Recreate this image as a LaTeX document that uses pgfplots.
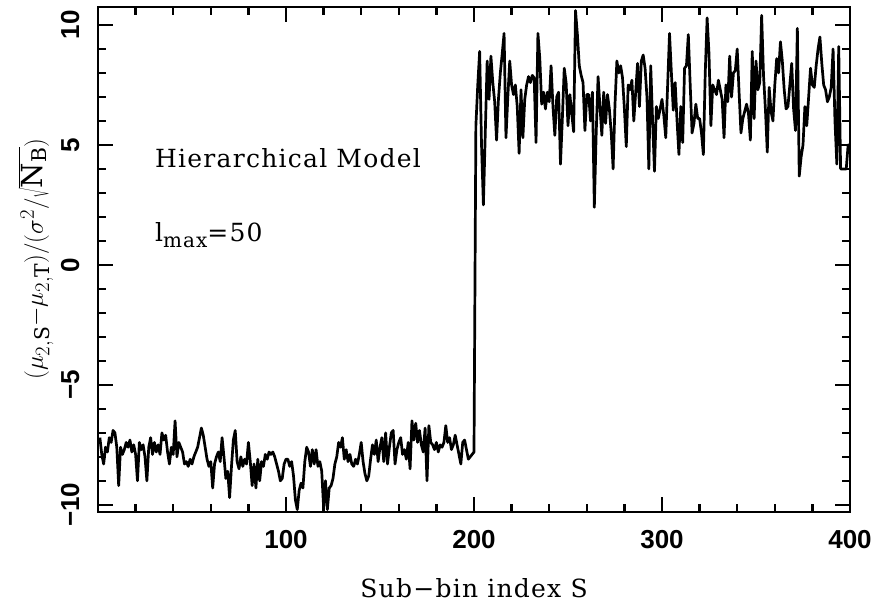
\documentclass[border=0pt]{standalone}
\usepackage{fontspec}
\setmainfont{DejaVu Serif}[LetterSpace=5]
\newfontfamily\tickfont{Liberation Sans}
\usepackage{pgfplots}
\pgfplotsset{compat=1.18}
\begin{document}
\begin{tikzpicture}
\useasboundingbox (-98pt,-97pt) rectangle (780pt,512pt);
\begin{axis}[
  scale only axis, width=752pt, height=505pt,
  xmin=0, xmax=400, ymin=-10.3, ymax=10.75,
  axis line style={line width=2.4pt},
  tick style={line width=2.4pt, black},
  tick align=inside,
  major tick length=15pt, minor tick length=8pt,
  xtick={0,100,200,300,400}, xticklabels={,100,200,300,400},
  minor x tick num=4,
  ytick={-10,-5,0,5,10}, yticklabels={−10,−5,0,5,10},
  minor y tick num=4,
  xticklabel style={font=\tickfont\bfseries\fontsize{26}{28}\selectfont, anchor=north},
  xticklabel shift=15pt,
  yticklabel style={font=\tickfont\bfseries\fontsize{26}{28}\selectfont, rotate=90, anchor=south},
  yticklabel shift=15pt,
  clip=true,
]
\addplot[black, line width=2.7pt, line join=round] coordinates {
(1,-7.2) (2,-7.9) (3,-8.3) (4,-7.6) (5,-7.8) (6,-7.2) (7,-7.4) (8,-6.9) (9,-7.0) (10,-7.6)
(11,-9.2) (12,-7.6) (13,-7.9) (14,-7.7) (15,-7.4) (16,-7.6) (17,-7.3) (18,-7.8) (19,-7.5) (20,-7.9)
(21,-9.0) (22,-7.4) (23,-7.7) (24,-7.5) (25,-8.0) (26,-9.0) (27,-7.6) (28,-7.2) (29,-7.9) (30,-7.4)
(31,-7.8) (32,-7.5) (33,-7.9) (34,-7.0) (35,-7.3) (36,-7.1) (37,-7.8) (38,-8.3) (39,-7.6) (40,-7.9)
(41,-6.5) (42,-8.0) (43,-7.4) (44,-7.6) (45,-7.8) (46,-8.3) (47,-8.2) (48,-8.4) (49,-8.1) (50,-8.3)
(51,-8.0) (52,-7.8) (53,-7.6) (54,-7.2) (55,-6.8) (56,-7.1) (57,-7.6) (58,-8.1) (59,-8.4) (60,-8.2)
(61,-9.3) (62,-8.3) (63,-8.0) (64,-7.8) (65,-8.2) (66,-7.2) (67,-8.0) (68,-8.9) (69,-8.6) (70,-9.7)
(71,-8.4) (72,-7.3) (73,-6.9) (74,-8.2) (75,-8.5) (76,-8.0) (77,-8.4) (78,-8.1) (79,-8.3) (80,-7.4)
(81,-8.2) (82,-9.2) (83,-8.3) (84,-9.3) (85,-8.1) (86,-9.0) (87,-8.2) (88,-8.4) (89,-7.9) (90,-8.1)
(91,-7.8) (92,-7.9) (93,-7.8) (94,-8.0) (95,-8.3) (96,-8.6) (97,-9.0) (98,-8.9) (99,-8.3) (100,-8.1)
(101,-8.1) (102,-8.4) (103,-8.2) (104,-8.8) (105,-9.8) (106,-10.2) (107,-9.4) (108,-9.1) (109,-9.3) (110,-8.2)
(111,-7.6) (112,-7.8) (113,-8.4) (114,-7.7) (115,-8.3) (116,-7.7) (117,-8.4) (118,-8.2) (119,-8.6) (120,-10.1)
(121,-9.0) (122,-10.2) (123,-9.3) (124,-9.2) (125,-8.9) (126,-8.3) (127,-8.0) (128,-7.4) (129,-7.6) (130,-7.2)
(131,-8.1) (132,-7.7) (133,-8.2) (134,-7.9) (135,-8.3) (136,-8.4) (137,-8.1) (138,-8.3) (139,-7.9) (140,-7.4)
(141,-8.2) (142,-8.7) (143,-9.0) (144,-8.8) (145,-8.1) (146,-7.5) (147,-7.9) (148,-7.3) (149,-8.2) (150,-7.6)
(151,-7.2) (152,-8.2) (153,-7.0) (154,-8.3) (155,-7.6) (156,-7.0) (157,-6.9) (158,-8.3) (159,-7.7) (160,-7.4)
(161,-7.2) (162,-7.9) (163,-7.7) (164,-8.1) (165,-7.4) (166,-8.5) (167,-6.5) (168,-7.3) (169,-6.6) (170,-7.4)
(171,-6.9) (172,-7.5) (173,-7.8) (174,-6.8) (175,-9.0) (176,-6.7) (177,-7.4) (178,-7.5) (179,-7.7) (180,-7.4)
(181,-7.8) (182,-7.5) (183,-7.6) (184,-7.4) (185,-6.7) (186,-7.4) (187,-7.2) (188,-7.7) (189,-7.5) (190,-7.1)
(191,-7.5) (192,-7.9) (193,-8.3) (194,-7.4) (195,-7.3) (196,-7.7) (197,-8.1) (198,-8.0) (199,-7.9) (200,-7.8)
(201,5.8) (202,7.5) (203,8.9) (204,5.0) (205,2.5) (206,5.5) (207,8.5) (208,6.9) (209,8.7) (210,7.6)
(211,6.8) (212,5.2) (213,6.9) (214,8.0) (215,8.8) (216,9.65) (217,5.3) (218,7.0) (219,8.5) (220,7.5)
(221,7.1) (222,7.5) (223,6.6) (224,4.65) (225,7.3) (226,5.3) (227,6.9) (228,7.5) (229,7.85) (230,7.6)
(231,7.9) (232,7.8) (233,5.1) (234,9.65) (235,8.6) (236,6.7) (237,7.2) (238,6.5) (239,7.2) (240,6.8)
(241,8.3) (242,6.6) (243,5.4) (244,7.0) (245,7.2) (246,4.2) (247,6.1) (248,8.2) (249,7.6) (250,5.8)
(251,7.1) (252,6.3) (253,5.55) (254,10.6) (255,9.6) (256,8.3) (257,7.9) (258,7.6) (259,5.6) (260,7.1)
(261,7.1) (262,6.0) (263,7.2) (264,2.4) (265,5.5) (266,7.85) (267,6.6) (268,5.4) (269,7.2) (270,5.9)
(271,7.1) (272,6.5) (273,5.5) (274,4.0) (275,6.7) (276,8.5) (277,8.0) (278,8.3) (279,7.8) (280,6.5)
(281,4.93) (282,7.5) (283,7.3) (284,7.7) (285,6.0) (286,7.2) (287,8.4) (288,6.6) (289,8.5) (290,8.75)
(291,8.2) (292,7.0) (293,4.0) (294,8.3) (295,6.0) (296,3.9) (297,6.6) (298,6.1) (299,6.5) (300,6.9)
(301,6.2) (302,5.3) (303,7.5) (304,9.65) (305,8.0) (306,6.45) (307,7.6) (308,6.0) (309,4.6) (310,6.6)
(311,5.1) (312,8.2) (313,8.3) (314,9.6) (315,7.5) (316,5.5) (317,5.9) (318,6.7) (319,6.1) (320,6.1)
(321,5.5) (322,4.6) (323,8.0) (324,10.3) (325,8.8) (326,5.8) (327,7.5) (328,7.3) (329,7.1) (330,7.7)
(331,7.3) (332,6.9) (333,5.3) (334,7.5) (335,6.8) (336,8.7) (337,7.0) (338,8.0) (339,8.1) (340,9.0)
(341,7.2) (342,5.5) (343,6.1) (344,6.4) (345,6.7) (346,6.3) (347,5.2) (348,8.9) (349,6.1) (350,8.5)
(351,7.3) (352,7.6) (353,10.4) (354,7.9) (355,6.5) (356,4.7) (357,7.4) (358,6.4) (359,6.0) (360,7.5)
(361,8.6) (362,8.0) (363,9.3) (364,8.5) (365,7.3) (366,6.5) (367,6.6) (368,7.5) (369,8.4) (370,6.5)
(371,5.6) (372,9.86) (373,3.7) (374,4.5) (375,5.0) (376,6.6) (377,5.8) (378,7.0) (379,8.2) (380,7.5)
(381,7.4) (382,8.3) (383,9.0) (384,9.5) (385,8.4) (386,7.5) (387,7.3) (388,6.8) (389,7.0) (390,7.4)
(391,9.0) (392,6.0) (393,4.2) (394,9.1) (395,4.0) (396,4.0) (397,4.0) (398,4.0) (399,5.0) (400,5.0)
};
\node[anchor=base west, font=\fontsize{25}{27}\selectfont, inner sep=0pt] at (axis cs:30.3,4.04) {Hierarchical Model};
\node[anchor=base west, font=\fontsize{25}{27}\selectfont, inner sep=0pt] at (axis cs:30.3,0.96) {l\raisebox{-0.45ex}{\fontsize{20}{22}\selectfont max}=50};
\end{axis}
\node[anchor=base, font=\fontsize{25}{27}\selectfont, inner sep=0pt] at (376pt,-86pt) {Sub−bin index S};
\node[rotate=90, anchor=base, font=\fontsize{29}{31}\selectfont, inner sep=0pt] at (-55pt,253pt) {$(\mu_{2,\mathrm{S}}{-}\mu_{2,\mathrm{T}})/(\sigma^{2}/\sqrt{\mathrm{N_B}})$};
\end{tikzpicture}
\end{document}
